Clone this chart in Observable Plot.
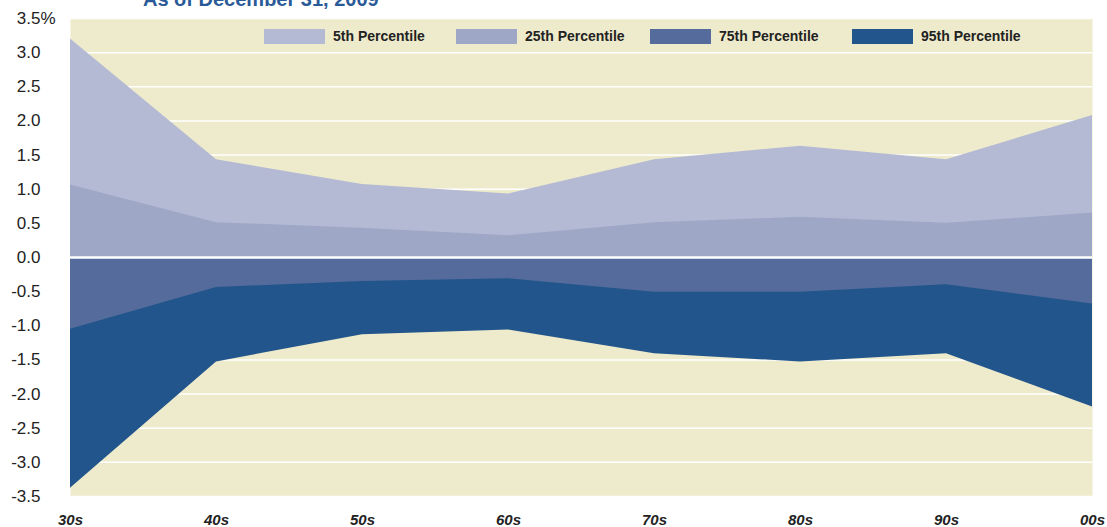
<!DOCTYPE html>
<html>
<head>
<meta charset="utf-8">
<script src="https://cdn.jsdelivr.net/npm/d3@7"></script>
<script src="https://cdn.jsdelivr.net/npm/@observablehq/plot@0.6"></script>
<style>
  body { margin: 0; background: #fff; overflow: hidden; font-family: "Liberation Sans", Arial, sans-serif; }
  #wrap { position: relative; width: 1107px; height: 527px; }
  #title { position: absolute; left: 143px; top: -11px; font-size: 20px; line-height: 20px; font-weight: bold; color: #2b5a98; white-space: nowrap; }
  #legend { position: absolute; top: 28px; left: 264px; display: flex; font-size: 14px; font-weight: bold; color: #222; }
  .item { display: flex; align-items: center; }
  .sw { width: 61px; height: 15px; margin-right: 8px; }
  #chart { position: absolute; left: 0; top: 0; }
</style>
</head>
<body>
<div id="wrap">
  <div id="chart"></div>
  <div id="title">As of December 31, 2009</div>
  <div id="legend"></div>
</div>
<script>
const decades = ["30s", "40s", "50s", "60s", "70s", "80s", "90s", "00s"];
const p5  = [3.20, 1.43, 1.07, 0.93, 1.43, 1.63, 1.43, 2.08];
const p25 = [1.06, 0.51, 0.43, 0.32, 0.51, 0.59, 0.50, 0.65];
const p75 = [-1.05, -0.44, -0.35, -0.31, -0.51, -0.51, -0.40, -0.68];
const p95 = [-3.38, -1.53, -1.13, -1.06, -1.41, -1.53, -1.41, -2.19];
const seriesNames = ["5th Percentile", "25th Percentile", "75th Percentile", "95th Percentile"];
const seriesColors = ["#b5bad4", "#9ea8c6", "#546b9b", "#22558b"];
const yTicks = d3.range(-3.5, 3.51, 0.5);

const rows = (vals) => decades.map((d, i) => ({decade: d, value: vals[i]}));
const fmt = d => (d < -1e-9 ? "-" : "") + Math.abs(d).toFixed(1);

const chart = Plot.plot({
  width: 1107,
  height: 527,
  marginLeft: 70,
  marginRight: 15,
  marginTop: 18,
  marginBottom: 31,
  style: { fontFamily: "'Liberation Sans', Arial, sans-serif", background: "transparent" },
  x: { type: "point", domain: decades, padding: 0 },
  y: { domain: [-3.5, 3.5] },
  marks: [
    Plot.frame({ fill: "#eeebcc", stroke: null }),
    Plot.gridY(yTicks, { stroke: "#fff", strokeOpacity: 1, strokeWidth: 1.5 }),
    Plot.areaY(rows(p5),  { x: "decade", y1: 0, y2: "value", fill: seriesColors[0] }),
    Plot.areaY(rows(p25), { x: "decade", y1: 0, y2: "value", fill: seriesColors[1] }),
    Plot.areaY(rows(p95), { x: "decade", y1: 0, y2: "value", fill: seriesColors[3] }),
    Plot.areaY(rows(p75), { x: "decade", y1: 0, y2: "value", fill: seriesColors[2] }),
    Plot.ruleY([0], { stroke: "#fff", strokeWidth: 2.5 }),
    Plot.axisY(yTicks, { tickSize: 0, tickPadding: 30, tickFormat: fmt, fontSize: 17, fill: "#222", label: null }),
    Plot.text([3.5], { y: d => d, text: () => "%", frameAnchor: "left", dx: -30, textAnchor: "start", fontSize: 17, fill: "#222" }),
    Plot.axisX({ tickSize: 0, tickPadding: 18, fontSize: 15, fontStyle: "italic", fontWeight: "bold", fill: "#222", label: null })
  ]
});
document.getElementById("chart").appendChild(chart);

const legend = document.getElementById("legend");
const gaps = [192, 194, 202, 0];
seriesNames.forEach((name, i) => {
  const item = document.createElement("div");
  item.className = "item";
  item.style.width = gaps[i] ? gaps[i] + "px" : "auto";
  const sw = document.createElement("div");
  sw.className = "sw";
  sw.style.background = seriesColors[i];
  const t = document.createElement("span");
  t.textContent = name;
  item.appendChild(sw);
  item.appendChild(t);
  legend.appendChild(item);
});
</script>
</body>
</html>
